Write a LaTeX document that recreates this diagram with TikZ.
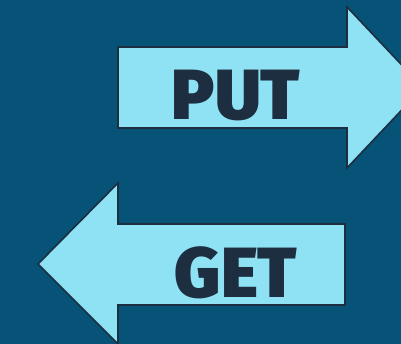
\documentclass[tikz,border=0pt]{standalone}
\usepackage{fontspec}
\setmainfont{Fira Sans}[BoldFont={Fira Sans Black}]
\usepackage{tikz}
\usetikzlibrary{positioning}
\definecolor{bgblue}{RGB}{7, 83, 120}
\definecolor{arrowcyan}{RGB}{142, 226, 243}
\definecolor{inkdark}{RGB}{29, 46, 64}

\begin{document}
\begin{tikzpicture}[
    x=1pt, y=-1pt,
    every node/.style={font=\fontsize{71}{71}\selectfont\bfseries, text=inkdark, inner sep=0pt},
    bigarrow/.style={draw=inkdark, line width=1.6pt, fill=arrowcyan, line join=miter}
]
\fill[bgblue] (0,0) rectangle (401,344);
\useasboundingbox (0,0) rectangle (401,344);
% PUT arrow, pointing right
\draw[bigarrow] (118,47) -- (347,47) -- (347,7) -- (423,87.5) -- (347,168)
    -- (347,128) -- (118,128) -- cycle;
% GET arrow, pointing left
\draw[bigarrow] (345,224) -- (118,224) -- (118,183) -- (38,264) -- (118,344)
    -- (118,305) -- (345,305) -- cycle;
\node[anchor=base] (put) at (236,120) {PUT};
\node[anchor=base] (get) at (236,298) {GET};
\end{tikzpicture}
\end{document}
